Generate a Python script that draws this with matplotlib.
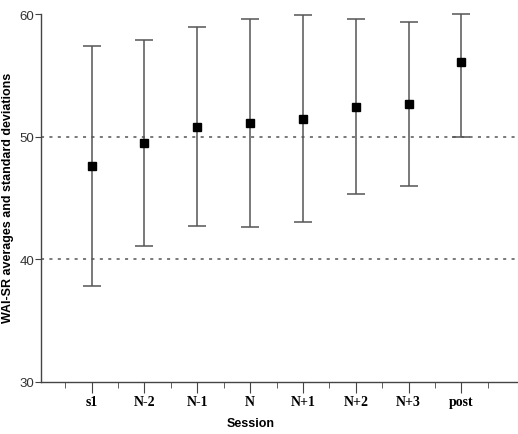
import matplotlib.pyplot as plt

sessions = ["s1", "N-2", "N-1", "N", "N+1", "N+2", "N+3", "post"]
means = [47.6, 49.5, 50.8, 51.15, 51.45, 52.4, 52.7, 56.1]
# ends of the whiskers (post is cut at 60)
upper = [57.4, 57.85, 58.9, 59.6, 59.92, 59.6, 59.38, 60.0]
lower = [37.8, 41.07, 42.7, 42.64, 43.0, 45.28, 45.96, 49.93]

fig = plt.figure(figsize=(5.18, 4.35), dpi=100)
ax = fig.add_axes([0.079, 0.12, 0.921, 0.8455])

x = list(range(1, len(sessions) + 1))
for yy in [40, 50]:
    ax.axhline(yy, color="#555555", lw=1.1, linestyle=(0, (2, 3.5)), zorder=1)

err = [[m - lo for m, lo in zip(means, lower)], [hi - m for m, hi in zip(means, upper)]]
ax.errorbar(x, means, yerr=err, fmt="none", ecolor="#555555", elinewidth=1.1,
            capsize=6.5, capthick=1.1, zorder=2, clip_on=False)
ax.plot(x, means, "s", color="black", markersize=5.5, zorder=3)

ax.set_xlim(0.04, 9.07)
ax.set_ylim(30, 60)
ax.set_yticks([30, 40, 50, 60])
ax.set_xticks(x)
ax.set_xticks([i + 0.5 for i in range(0, 9)], minor=True)
ax.set_xticklabels(sessions, fontfamily="Liberation Serif", fontweight="bold", fontsize=10)
for lab in ax.get_yticklabels():
    lab.set_fontfamily("Liberation Sans")
    lab.set_fontsize(9.5)
    lab.set_color("#333333")

ax.spines["top"].set_visible(False)
ax.spines["right"].set_visible(False)
for s in ["left", "bottom"]:
    ax.spines[s].set_color("#444444")
    ax.spines[s].set_linewidth(1.0)
ax.tick_params(axis="y", length=4, color="#444444", pad=1)
ax.tick_params(axis="x", which="major", length=8, color="#444444", pad=1.5)
ax.tick_params(axis="x", which="minor", length=4, color="#444444")

ax.set_ylabel("WAI-SR averages and standard deviations", fontfamily="Liberation Sans",
              fontweight="bold", fontsize=9)
ax.yaxis.set_label_coords(-0.057, 0.502)
ax.set_xlabel("Session", fontfamily="Liberation Sans", fontweight="bold", fontsize=9)
ax.xaxis.set_label_coords(0.44, -0.096)

fig.savefig("out.png", dpi=100)
